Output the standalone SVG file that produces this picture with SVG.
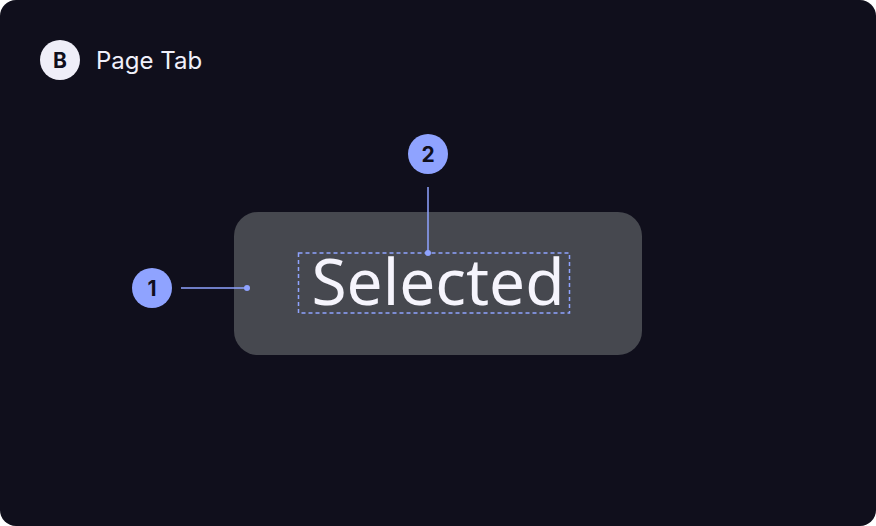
<svg xmlns="http://www.w3.org/2000/svg" width="876" height="526" viewBox="0 0 876 526">
<style>
.badge{fill:#8fa3ff}
.badgeTxt{font-family:Inter,"Liberation Sans",sans-serif;font-weight:700;font-size:21px;fill:#100f1c;text-anchor:middle}
.lead{stroke:#8fa3ff;stroke-width:1.5;fill:none}
.dot{fill:#8fa3ff}
</style>
<rect x="0" y="0" width="876" height="526" rx="16" fill="#100f1c"/>
<g id="title">
<circle cx="60" cy="60" r="20" fill="#efeef8"/>
<text x="60" y="67.5" class="badgeTxt">B</text>
<text x="96" y="69" font-family="Inter,'Liberation Sans',sans-serif" font-size="24" fill="#f0f0fa">Page Tab</text>
</g>
<g id="tab">
<rect x="234" y="212" width="408" height="143" rx="24" fill="#46484f"/>
<text x="438" y="305" font-family="'Noto Sans','Open Sans',sans-serif" font-size="64" fill="#f5f4fc" text-anchor="middle">Selected</text>
<rect x="298.5" y="253" width="271" height="60" fill="none" stroke="#8fa3ff" stroke-width="1.5" stroke-dasharray="4 3"/>
</g>
<g id="connectors">
<line x1="181" y1="288" x2="247" y2="288" class="lead"/>
<circle cx="247" cy="288" r="3" class="dot"/>
<line x1="428" y1="187" x2="428" y2="253" class="lead"/>
<circle cx="428" cy="253" r="3" class="dot"/>
</g>
<g id="badge1">
<circle cx="152" cy="288" r="20" class="badge"/>
<text x="152" y="295.5" class="badgeTxt">1</text>
</g>
<g id="badge2">
<circle cx="428" cy="154" r="20" class="badge"/>
<text x="428" y="161.5" class="badgeTxt">2</text>
</g>
</svg>
